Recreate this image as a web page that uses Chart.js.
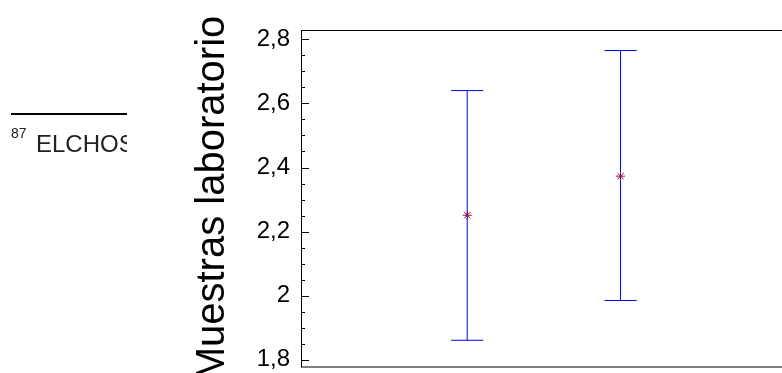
<!DOCTYPE html>
<html>
<head>
<meta charset="utf-8">
<script src="https://cdn.jsdelivr.net/npm/chart.js@4/dist/chart.umd.min.js"></script>
<style>
  html, body { margin: 0; padding: 0; background: #fff; overflow: hidden; }
  #wrap { width: 782px; height: 373px; overflow: hidden; }
  canvas { display: block; }
</style>
</head>
<body>
<div id="wrap"><canvas id="myChart" width="820" height="373"></canvas></div>
<script>
// sample groups and their interval (mean, upper, lower)
const groups = [1, 2];
const means = [2.251, 2.373];
const upper = [2.640, 2.765];
const lower = [1.861, 1.985];

const yMin = 1.776;
const yMax = 2.829;
const yStep = 0.05;
const yTitle = 'Muestras laboratorio';

const noteNumber = '87';
const noteText = 'ELCHOS';

const font = '"Liberation Sans", Arial, sans-serif';

let fmtTick = function(v){
    if (Math.abs(v * 5 - Math.round(v * 5)) > 1e-6) return '';
    if (Math.abs(v - Math.round(v)) < 1e-6) return String(Math.round(v));
    return v.toFixed(1).replace('.', ',');
};

// frame, inward ticks, error bars, title and side note
let frame = {
    id: 'frame',
    beforeDatasetsDraw: function(chart){
        let ctx = chart.ctx;
        let a = chart.chartArea;
        let ys = chart.scales.y;
        ctx.save();
        ctx.strokeStyle = '#000';
        ctx.lineWidth = 1;
        ctx.strokeRect(a.left + 0.5, a.top + 0.5, a.right - a.left, a.bottom - a.top - 1);
        ys.ticks.forEach(function(t){
            let v = t.value;
            if (Math.abs(v / yStep - Math.round(v / yStep)) > 1e-6) return;
            let len = fmtTick(v) === '' ? 4 : 8;
            let y = Math.round(ys.getPixelForValue(v)) + 0.5;
            ctx.beginPath();
            ctx.moveTo(a.left, y);
            ctx.lineTo(a.left + len, y);
            ctx.stroke();
        });

        // error bars
        let xs = chart.scales.x;
        ctx.strokeStyle = '#0000ff';
        groups.forEach(function(g, i){
            let x = xs.getPixelForValue(g);
            let yh = ys.getPixelForValue(upper[i]);
            let yl = ys.getPixelForValue(lower[i]);
            ctx.beginPath();
            ctx.moveTo(x, yh);
            ctx.lineTo(x, yl);
            ctx.moveTo(x - 16, yh);
            ctx.lineTo(x + 16, yh);
            ctx.moveTo(x - 16, yl);
            ctx.lineTo(x + 16, yl);
            ctx.stroke();
        });

        // axis title
        ctx.fillStyle = '#000';
        ctx.font = '40px ' + font;
        ctx.translate(224, 198);
        ctx.rotate(-Math.PI / 2);
        ctx.textAlign = 'center';
        ctx.textBaseline = 'alphabetic';
        ctx.fillText(yTitle, 0, 0);
        ctx.restore();

        // clipped note on the left
        ctx.save();
        ctx.beginPath();
        ctx.rect(0, 0, 127, 373);
        ctx.clip();
        ctx.fillStyle = '#000';
        ctx.fillRect(11, 113, 116, 2);
        ctx.fillStyle = '#222';
        ctx.font = '14px ' + font;
        ctx.fillText(noteNumber, 11, 138);
        ctx.font = '24px ' + font;
        ctx.fillText(noteText, 36, 152);
        ctx.restore();
    }
};

var ctx = document.getElementById('myChart').getContext('2d');
var chart = new Chart(ctx, {
    type: 'scatter',
    data: {
        datasets: [{
            label: 'media',
            data: groups.map(function(g, i){ return {x: g, y: means[i]}; }),
            pointStyle: 'star',
            pointRadius: 4.5,
            borderColor: '#8b0a4b',
            backgroundColor: '#8b0a4b',
            borderWidth: 1
        }]
    },
    options: {
        responsive: false,
        animation: false,
        layout: { padding: { top: 30, bottom: 2, left: 0, right: 0 } },
        plugins: {
            legend: { display: false },
            tooltip: { enabled: false }
        },
        scales: {
            x: {
                type: 'linear',
                display: false,
                min: -0.084,
                max: 3.265
            },
            y: {
                min: yMin,
                max: yMax,
                afterFit: function(scale){
                    scale.width = 301;
                    scale.paddingTop = 0;
                    scale.paddingBottom = 0;
                },
                grid: { display: false, drawTicks: false },
                border: { display: false },
                ticks: {
                    stepSize: yStep,
                    includeBounds: false,
                    autoSkip: false,
                    padding: 11,
                    color: '#000',
                    font: { family: font, size: 24 },
                    callback: function(v){ return fmtTick(v); }
                }
            }
        }
    },
    plugins: [frame]
});
</script>
</body>
</html>
